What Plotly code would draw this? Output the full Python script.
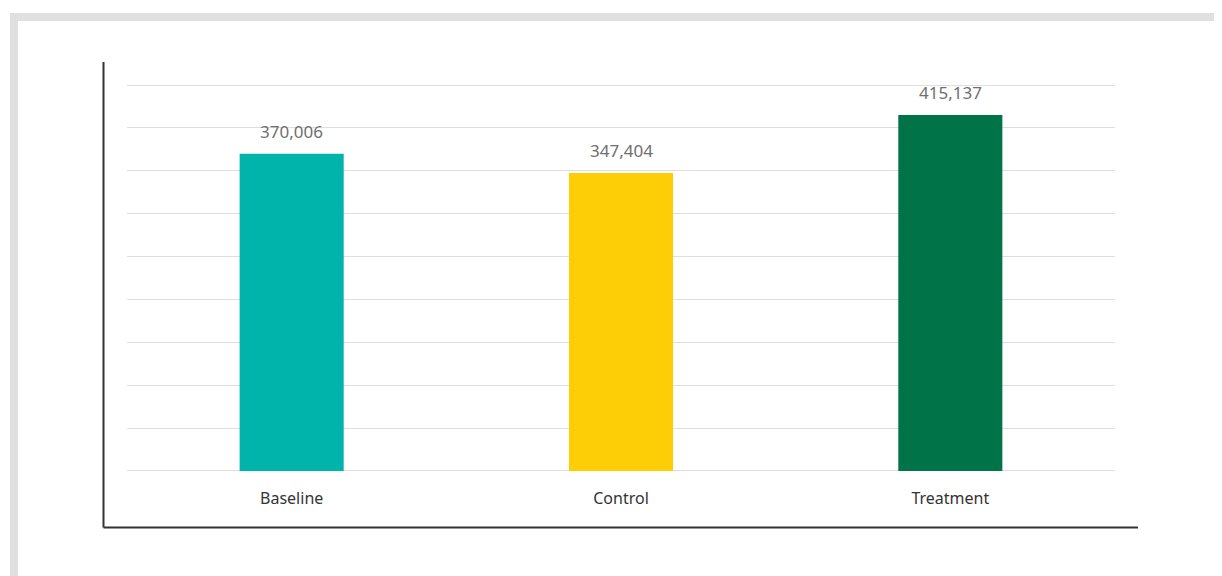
import plotly.graph_objects as go

categories = ["Baseline", "Control", "Treatment"]
values = [370006, 347404, 415137]
colors = ["#00b4ab", "#fdcd06", "#007349"]
y_ticks = [0, 50000, 100000, 150000, 200000, 250000, 300000, 350000, 400000, 450000]

OFF = 8  # page body margin
W, H = 1222, 576
scale = 386 / 450000
pad_units = 1200
pad_px = pad_units * scale
L = 127 - OFF
R = W - (1115 - OFF)
T = 85 - OFF - pad_px
B = H - (471 - OFF + pad_px)
pw, ph = W - L - R, H - T - B


def px_x(x):
    return (x - OFF - L) / pw


def px_y(y):
    return (H - B - (y - OFF)) / ph


fig = go.Figure()
fig.add_trace(go.Bar(
    x=categories, y=values, marker=dict(color=colors, line=dict(width=0)),
    width=0.316, hoverinfo="x+y",
))

for c, v in zip(categories, values):
    fig.add_annotation(
        x=c, y=v, text=f"{v:,}", showarrow=False, yanchor="bottom", yshift=9,
        font=dict(size=17, color="#6f6f6f", family="Noto Sans"),
    )

shapes = [
    dict(type="rect", xref="paper", yref="paper", x0=px_x(10), x1=px_x(1250), y0=px_y(13), y1=px_y(21),
         fillcolor="#e0e0e0", line=dict(width=0), layer="below"),
    dict(type="rect", xref="paper", yref="paper", x0=px_x(10), x1=px_x(18), y0=px_y(13), y1=px_y(600),
         fillcolor="#e0e0e0", line=dict(width=0), layer="below"),
    dict(type="line", xref="paper", yref="paper", x0=px_x(103.5), x1=px_x(103.5), y0=px_y(62), y1=px_y(527.5),
         line=dict(color="#333333", width=2)),
    dict(type="line", xref="paper", yref="paper", x0=px_x(103.5), x1=px_x(1138), y0=px_y(527.5), y1=px_y(527.5),
         line=dict(color="#333333", width=2)),
]

fig.update_layout(
    width=W, height=H,
    margin=dict(l=L, r=R, t=T, b=B, pad=0),
    paper_bgcolor="white", plot_bgcolor="white",
    showlegend=False,
    shapes=shapes,
    font=dict(family="Noto Sans", color="#333333"),
    xaxis=dict(showgrid=False, showline=False, zeroline=False, ticks="",
               tickfont=dict(size=16, color="#333333"), ticklabelstandoff=15),
    yaxis=dict(range=[-pad_units, 450000 + pad_units], tickvals=y_ticks, showticklabels=False,
               showgrid=True, gridcolor="#dedede", gridwidth=1, zeroline=False, showline=False),
)

fig.write_html("out.html")
